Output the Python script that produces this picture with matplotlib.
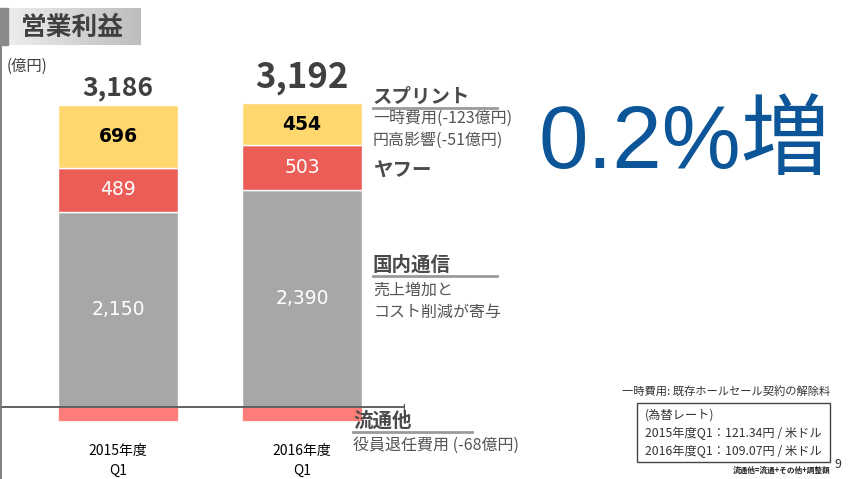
import matplotlib
matplotlib.use("Agg")
import matplotlib.pyplot as plt
import numpy as np
from matplotlib.colors import LinearSegmentedColormap
from matplotlib.patches import Rectangle

plt.rcParams['font.family'] = ['Noto Sans CJK JP', 'DejaVu Sans']

# === Daten ===
years = ["2015年度\nQ1", "2016年度\nQ1"]
domestic = [2150, 2390]   # 国内通信
yahoo = [489, 503]        # ヤフー
sprint = [696, 454]       # スプリント
distrib = [-149, -155]    # 流通他
totals = [3186, 3192]

c_gray = "#a6a8a7"
c_red = "#ec5d58"
c_yellow = "#fed76f"
c_pink = "#ff7e7a"
c_text = "#404040"
num_font = ["DejaVu Sans"]

W, H = 850, 479
fig = plt.figure(figsize=(8.5, 4.79), dpi=100)


def fx(x):
    return x / W


def fy(y):
    return 1 - y / H


# Achse: y=0 bei Pixel 407, 0.0907 px pro 億円
ymin, ymax = -370, 3800
scale = 0.0907
ax_bottom = 407 + (-ymin) * scale
ax_top = 407 - ymax * scale
ax = fig.add_axes([0, fy(ax_bottom), fx(405), (ax_bottom - ax_top) / H])
ax.set_xlim(-118 / 184, 1 + 103 / 184)
ax.set_ylim(ymin, ymax)
ax.axis("off")

x = np.arange(len(years))
bw = 120 / 184
ax.bar(x, domestic, bw, color=c_gray, edgecolor="white", linewidth=1)
ax.bar(x, yahoo, bw, bottom=domestic, color=c_red, edgecolor="white", linewidth=1)
bottom2 = [d + y for d, y in zip(domestic, yahoo)]
ax.bar(x, sprint, bw, bottom=bottom2, color=c_yellow, edgecolor="white", linewidth=1)
ax.bar(x, distrib, bw, color=c_pink, edgecolor="white", linewidth=0.5)
ax.axhline(0, color="#555555", lw=1.3)
ax.plot([1.555, 1.555], [-40, 30], color="#555555", lw=1)

for i in range(len(years)):
    ax.text(x[i], domestic[i] / 2, f"{domestic[i]:,}", ha="center", va="center",
            color="white", fontsize=13.5, family=num_font)
    ax.text(x[i], domestic[i] + yahoo[i] / 2, f"{yahoo[i]:,}", ha="center",
            va="center", color="white", fontsize=13.5, family=num_font)
    ax.text(x[i], bottom2[i] + sprint[i] / 2, f"{sprint[i]:,}", ha="center",
            va="center", color="black", fontsize=13.5, fontweight="bold",
            family=num_font)
    ax.text(x[i], -410, years[i], ha="center", va="top", fontsize=10,
            linespacing=1.5, color="black")

top = [b + s for b, s in zip(bottom2, sprint)]
ax.text(x[0], top[0] + 30, f"{totals[0]:,}", ha="center", va="bottom",
        fontsize=19, fontweight="bold", color=c_text)
ax.text(x[1], top[1] + 90, f"{totals[1]:,}", ha="center", va="bottom",
        fontsize=25, fontweight="bold", color=c_text)

# === Titel ===
tax = fig.add_axes([0, fy(45), fx(141), 37 / H])
grad = np.linspace(0, 1, 256).reshape(1, -1)
cmap = LinearSegmentedColormap.from_list("g", ["#f0f0f0", "#bdbdbd"])
tax.imshow(grad, aspect="auto", cmap=cmap, extent=[0, 1, 0, 1])
tax.axis("off")
fig.patches.append(Rectangle((0, fy(45)), fx(8), 37 / H, transform=fig.transFigure,
                             color="#8a8a8a", zorder=5))
fig.text(fx(21), fy(27), "営業利益", fontsize=18.5, fontweight="bold",
         color="#404040", va="center", ha="left")
fig.add_artist(plt.Line2D([fx(1), fx(1)], [fy(46), 0], color="#777777", lw=1.3))

fig.text(fx(7), fy(66), "(億円)", fontsize=11, color=c_text, va="center")


# === Anmerkungen rechts ===
def heading(x0, y0, x1, txt):
    fig.text(fx(x0), fy(y0), txt, fontsize=14, fontweight="bold", color="#4a4a4a",
             va="center", ha="left")
    fig.add_artist(plt.Line2D([fx(x0), fx(x1)], [fy(y0 + 11), fy(y0 + 11)],
                              color="#9a9a9a", lw=2))


def note(x0, y0, txt):
    fig.text(fx(x0), fy(y0), txt, fontsize=11.5, color="#555555", va="center", ha="left")


heading(373, 97, 497, "スプリント")
note(373, 118, "一時費用(-123億円)")
note(373, 140, "円高影響(-51億円)")
fig.text(fx(373), fy(171), "ヤフー", fontsize=14, fontweight="bold", color="#4a4a4a",
         va="center", ha="left")
heading(373, 265, 497, "国内通信")
note(373, 290, "売上増加と")
note(373, 312, "コスト削減が寄与")
heading(353, 421, 472, "流通他")
note(353, 445, "役員退任費用 (-68億円)")

fig.text(fx(684), fy(145), "0.2%増", fontsize=64,
         family=["Liberation Sans", "Noto Sans CJK JP"],
         color="#0b5598", ha="center", va="center")

# === Fußnoten ===
fig.text(fx(830), fy(392), "一時費用: 既存ホールセール契約の解除料", fontsize=8.1,
         color="#333333", ha="right", va="center")
fig.patches.append(Rectangle((fx(637), fy(462)), fx(830 - 637), (462 - 403) / H,
                             transform=fig.transFigure, fill=False,
                             edgecolor="#444444", lw=1))
fig.text(fx(645), fy(415), "(為替レート)", fontsize=8.8, color="#333333", va="center")
fig.text(fx(645), fy(433), "2015年度Q1：121.34円 / 米ドル", fontsize=8.8,
         color="#333333", va="center")
fig.text(fx(645), fy(451), "2016年度Q1：109.07円 / 米ドル", fontsize=8.8,
         color="#333333", va="center")
fig.text(fx(830), fy(470), "流通他=流通+その他+調整額", fontsize=5.5,
         fontweight="bold", color="#222222", ha="right", va="center")
fig.text(fx(838), fy(465), "9", fontsize=9, color="#333333", ha="center", va="center")

fig.savefig("out.png", dpi=100)
